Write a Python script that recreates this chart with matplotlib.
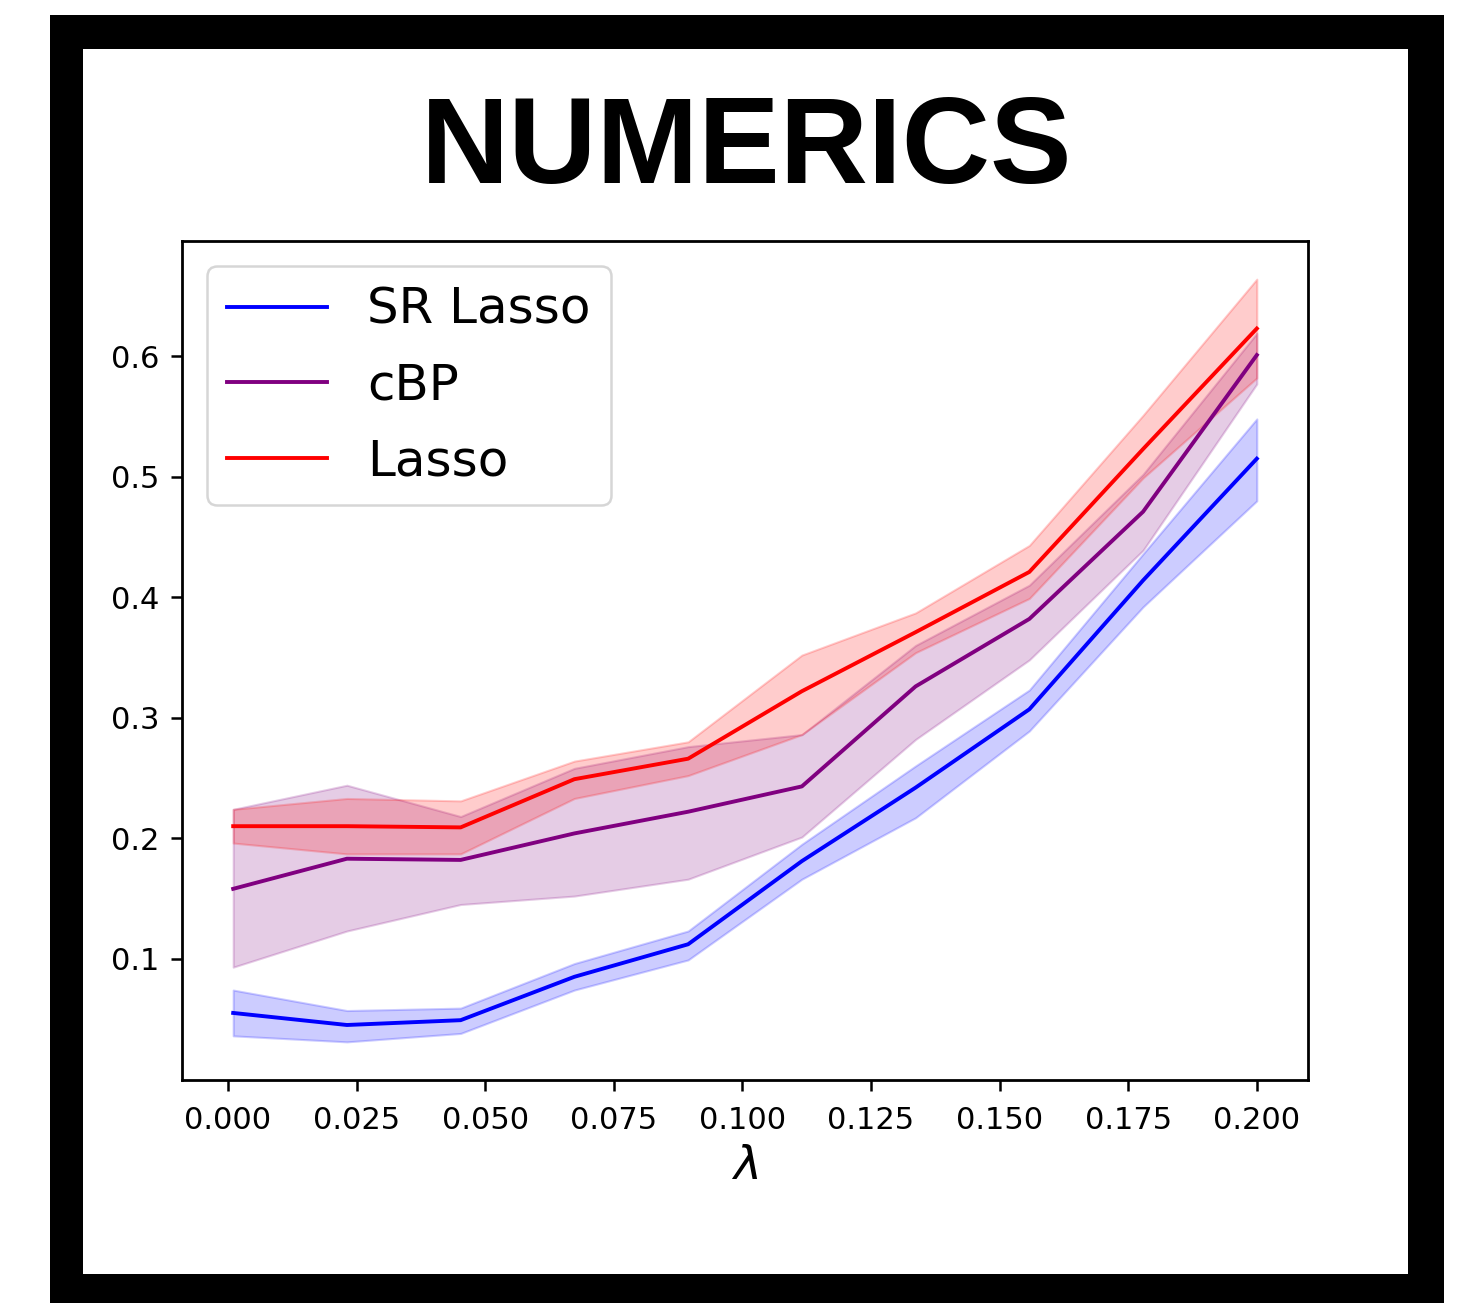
import numpy as np
import matplotlib
matplotlib.use("Agg")
import matplotlib.pyplot as plt
from matplotlib.patches import Rectangle

# ---- data ----
lam = np.linspace(0.001, 0.2, 10)

sr_mean = [0.055, 0.045, 0.049, 0.085, 0.112, 0.181, 0.242, 0.307, 0.414, 0.515]
sr_low  = [0.036, 0.031, 0.038, 0.074, 0.099, 0.166, 0.217, 0.289, 0.392, 0.480]
sr_high = [0.074, 0.057, 0.059, 0.096, 0.123, 0.195, 0.260, 0.323, 0.436, 0.548]

cbp_mean = [0.158, 0.183, 0.182, 0.204, 0.222, 0.243, 0.326, 0.382, 0.471, 0.601]
cbp_low  = [0.093, 0.123, 0.145, 0.152, 0.166, 0.201, 0.282, 0.348, 0.439, 0.577]
cbp_high = [0.224, 0.244, 0.218, 0.258, 0.276, 0.286, 0.360, 0.410, 0.502, 0.619]

lasso_mean = [0.210, 0.210, 0.209, 0.249, 0.266, 0.322, 0.371, 0.421, 0.523, 0.623]
lasso_low  = [0.196, 0.187, 0.187, 0.233, 0.252, 0.286, 0.354, 0.399, 0.499, 0.582]
lasso_high = [0.224, 0.233, 0.231, 0.264, 0.280, 0.352, 0.387, 0.443, 0.551, 0.664]

labels = ["SR Lasso", "cBP", "Lasso"]
colors = ["blue", "purple", "red"]
title_text = "NUMERICS"

W, H, DPI = 1465, 1303, 100
fig = plt.figure(figsize=(W / DPI, H / DPI), dpi=DPI)
fig.patch.set_facecolor("white")

# rough frame (solid bands)
frame_kw = dict(transform=fig.transFigure, facecolor="black", edgecolor="none", zorder=0)
fig.patches.append(Rectangle((50 / W, 0), 33 / W, 1 - 15 / H, **frame_kw))
fig.patches.append(Rectangle((1408 / W, 0), 36 / W, 1 - 15 / H, **frame_kw))
fig.patches.append(Rectangle((50 / W, 1 - 49 / H), 1394 / W, 34 / H, **frame_kw))
fig.patches.append(Rectangle((50 / W, 0), 1394 / W, 29 / H, **frame_kw))

fig.text(746.5 / W, 1 - 183 / H, title_text, ha="center", va="baseline",
         fontsize=88, fontweight="bold", family="Liberation Sans")

ax = fig.add_axes([182 / W, 1 - 1080 / H, (1308 - 182) / W, (1080 - 241) / H])

series = [(sr_mean, sr_low, sr_high), (cbp_mean, cbp_low, cbp_high),
          (lasso_mean, lasso_low, lasso_high)]
for (m, lo, hi), lab, c in zip(series, labels, colors):
    ax.plot(lam, m, color=c, lw=2.8, label=lab)
    ax.fill_between(lam, lo, hi, color=c, alpha=0.2, lw=1.5)

ax.set_yticks([0.1, 0.2, 0.3, 0.4, 0.5, 0.6])
ax.set_xticks([0.0, 0.025, 0.05, 0.075, 0.1, 0.125, 0.15, 0.175, 0.2])
ax.tick_params(labelsize=22, length=8, width=1.8)
ax.tick_params(axis="x", pad=11)
ax.tick_params(axis="y", pad=8)
for s in ax.spines.values():
    s.set_linewidth(2.0)
ax.set_xlabel(r"$\lambda$", fontsize=34, labelpad=6)

leg = ax.legend(loc="upper left", fontsize=36, frameon=True, handlelength=2.0,
                handletextpad=0.8, borderaxespad=0.5, labelspacing=0.55)
leg.get_frame().set_linewidth(1.8)

fig.savefig("out.png", dpi=DPI)
